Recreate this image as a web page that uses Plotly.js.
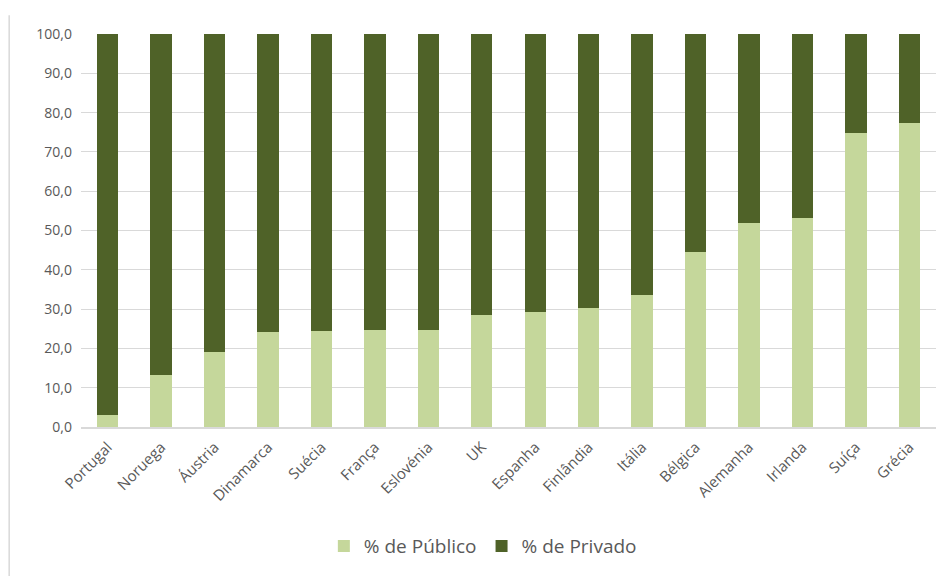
<!DOCTYPE html>
<html>
<head>
<meta charset="utf-8">
<script src="https://cdn.plot.ly/plotly-3.0.1.min.js"></script>
<style>html,body{margin:0;padding:0;background:#fff;}#chart{width:951px;height:576px;}</style>
</head>
<body>
<div id="chart"></div>
<script>
const countries = ["Portugal","Noruega","Áustria","Dinamarca","Suécia","França","Eslovénia","UK","Espanha","Finlândia","Itália","Bélgica","Alemanha","Irlanda","Suíça","Grécia"];
const publico = [3.0,13.3,19.0,24.2,24.5,24.7,24.8,28.4,29.2,30.3,33.5,44.5,51.9,53.2,74.9,77.4];
const privado = [97.0,86.7,81.0,75.8,75.5,75.3,75.2,71.6,70.8,69.7,66.5,55.5,48.1,46.8,25.1,22.6];
const seriesNames = ["% de Público","% de Privado"];
const yTicks = [0,10,20,30,40,50,60,70,80,90,100];

const font = "'Open Sans', 'Liberation Sans', sans-serif";
const traces = [
  {type:'bar', name:seriesNames[0], x:countries, y:publico, marker:{color:'#c5d79b'}, hoverinfo:'skip'},
  {type:'bar', name:seriesNames[1], x:countries, y:privado, marker:{color:'#4f6228'}, hoverinfo:'skip'}
];
const layout = {
  width:951, height:576,
  barmode:'stack', bargap:0.6,
  margin:{l:81, r:15, t:34, b:148},
  separators:',.',
  paper_bgcolor:'#ffffff', plot_bgcolor:'#ffffff',
  font:{family:font, color:'#595959', size:13},
  xaxis:{tickangle:-45, tickfont:{size:15, color:'#595959'}, showline:true, linecolor:'#d9d9d9', linewidth:1.5, ticks:'', showgrid:false, ticklabelstandoff:4},
  yaxis:{range:[0,100], tickvals:yTicks, tickformat:'.1f', showgrid:true, gridcolor:'#d9d9d9', gridwidth:1, zeroline:false, showline:false, ticks:'', ticklen:0, tickfont:{size:14, color:'#595959'}, ticklabelstandoff:8, automargin:false},
  showlegend:true,
  legend:{orientation:'h', traceorder:'normal', x:0.47, xanchor:'center', y:-0.30, yanchor:'middle', font:{size:19, color:'#595959'}},
  shapes:[{type:'line', xref:'paper', yref:'paper', x0:-0.084, x1:-0.084, y0:-0.4, y1:1.048, line:{color:'#d9d9d9', width:1.5}}]
};
Plotly.newPlot('chart', traces, layout, {displayModeBar:false, staticPlot:true});
</script>
</body>
</html>
